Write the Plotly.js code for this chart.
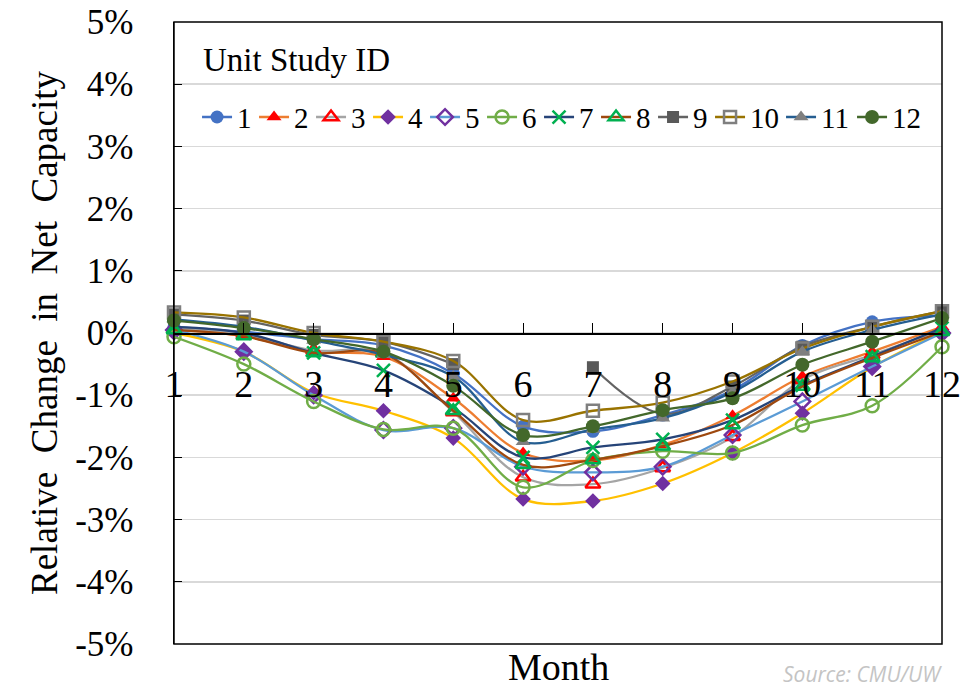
<!DOCTYPE html>
<html>
<head>
<meta charset="utf-8">
<script src="https://cdn.plot.ly/plotly-3.0.1.min.js"></script>
<style>html,body{margin:0;padding:0;background:#fff;}#chart{width:976px;height:690px;}</style>
</head>
<body>
<div id="chart"></div>
<script>
// ---- data (percent change) ----
const months = [1, 2, 3, 4, 5, 6, 7, 8, 9, 10, 11, 12];
const monthLabels = ["1", "2", "3", "4", "5", "6", "7", "8", "9", "10", "11", "12"];
const yTickVals = [-5, -4, -3, -2, -1, 0, 1, 2, 3, 4, 5];
const yTickText = ["-5%", "-4%", "-3%", "-2%", "-1%", "0%", "1%", "2%", "3%", "4%", "5%"];
const unitNames = ["1", "2", "3", "4", "5", "6", "7", "8", "9", "10", "11", "12"];

const unit1  = [0.10, 0.02, -0.10, -0.20, -0.65, -1.50, -1.58, -1.32, -0.92, -0.20, 0.18, 0.28];
const unit2  = [0.05, -0.05, -0.30, -0.38, -1.05, -1.93, -2.05, -1.80, -1.33, -0.70, -0.30, 0.10];
const unit3  = [0.08, -0.02, -0.28, -0.32, -1.27, -2.32, -2.43, -2.17, -1.67, -0.75, -0.35, 0.05];
const unit4  = [0.00, -0.30, -0.96, -1.25, -1.69, -2.67, -2.70, -2.42, -1.93, -1.29, -0.55, 0.02];
const unit5  = [0.05, -0.30, -1.00, -1.56, -1.53, -2.15, -2.24, -2.15, -1.64, -1.10, -0.54, 0.00];
const unit6  = [-0.06, -0.50, -1.10, -1.55, -1.53, -2.48, -2.05, -1.90, -1.93, -1.48, -1.17, -0.22];
const unit7  = [0.10, 0.00, -0.32, -0.60, -1.20, -2.00, -1.84, -1.71, -1.40, -0.84, -0.38, 0.08];
const unit8  = [0.05, -0.05, -0.32, -0.33, -1.25, -2.12, -2.04, -1.82, -1.48, -0.86, -0.40, 0.02];
const unit9  = [0.30, 0.20, -0.03, -0.14, -0.50, null, -0.55, -1.30, -0.86, -0.22, 0.10, 0.35];
const unit10 = [0.33, 0.25, 0.00, -0.14, -0.45, -1.40, -1.25, -1.12, -0.78, -0.25, 0.10, 0.35];
const unit11 = [0.22, 0.10, -0.12, -0.35, -0.70, -1.75, -1.55, -1.37, -0.95, -0.30, 0.05, 0.30];
const unit12 = [0.20, 0.08, -0.10, -0.30, -0.85, -1.64, -1.50, -1.24, -1.05, -0.51, -0.14, 0.24];

const seriesValues = [unit1, unit2, unit3, unit4, unit5, unit6, unit7, unit8, unit9, unit10, unit11, unit12];

// ---- styles ----
const lineColors = ["#4472C4", "#ED7D31", "#A5A5A5", "#FFC000", "#5B9BD5", "#70AD47",
                    "#264478", "#9E480E", "#636363", "#997300", "#255E91", "#43682B"];
const markerSymbols = ["circle", "triangle-up", "triangle-up-open", "diamond", "diamond-open", "circle-open",
                       "x-thin", "triangle-up-open", "square", "square-open", "triangle-up", "circle"];
const markerColors = ["#4472C4", "#FF0000", "#FF0000", "#7030A0", "#7030A0", "#70AD47",
                      "#00B050", "#00B050", "#595959", "#7F7F7F", "#7F7F7F", "#43682B"];
const markerSizes = [13, 13, 13, 12, 12, 13, 13, 13, 12, 12, 13, 14];

const serif = "'Liberation Serif', 'Times New Roman', serif";

const traces = seriesValues.map((vals, i) => {
  const open = markerSymbols[i].indexOf("open") >= 0 || markerSymbols[i] === "x-thin";
  return {
    type: "scatter",
    mode: "lines+markers",
    name: unitNames[i],
    x: months,
    y: vals,
    connectgaps: false,
    cliponaxis: false,
    legendwidth: unitNames[i].length > 1 ? 26 : 12,
    line: {color: lineColors[i], width: 2.3, shape: "spline", smoothing: 1},
    marker: {
      symbol: markerSymbols[i],
      size: markerSizes[i],
      color: markerColors[i],
      line: {color: markerColors[i], width: open ? 2.5 : 0}
    }
  };
});

const layout = {
  width: 976,
  height: 690,
  margin: {l: 174, r: 34, t: 22, b: 46},
  paper_bgcolor: "#ffffff",
  plot_bgcolor: "#ffffff",
  font: {family: serif, color: "#000000"},
  showlegend: true,
  legend: {
    orientation: "h",
    x: 0.03, xanchor: "left",
    y: 0.847, yanchor: "middle",
    bgcolor: "rgba(0,0,0,0)",
    borderwidth: 0,
    font: {family: serif, size: 29, color: "#000"},
    itemwidth: 30
  },
  xaxis: {
    range: [1, 12],
    tickmode: "array",
    tickvals: months,
    ticktext: monthLabels,
    ticks: "inside",
    ticklen: 10,
    tickwidth: 1,
    tickcolor: "#000",
    showline: true,
    linecolor: "#000",
    linewidth: 1.5,
    anchor: "free",
    position: 0.5,
    showgrid: false,
    zeroline: false,
    tickfont: {family: serif, size: 38, color: "#000"},
    ticklabelstandoff: 17,
    fixedrange: true
  },
  yaxis: {
    range: [-5, 5],
    tickmode: "array",
    tickvals: yTickVals,
    ticktext: yTickText,
    ticks: "inside",
    ticklen: 8,
    tickcolor: "#000",
    showline: true,
    linecolor: "#000",
    linewidth: 1.5,
    showgrid: true,
    gridcolor: "#d9d9d9",
    gridwidth: 1.5,
    zeroline: false,
    tickfont: {family: serif, size: 35, color: "#000"},
    ticklabelstandoff: 32,
    title: {text: "Relative  Change  in  Net  Capacity", font: {family: serif, size: 37, color: "#000"}, standoff: 6},
    automargin: false,
    fixedrange: true
  },
  shapes: [
    {type: "rect", xref: "paper", yref: "paper", x0: 0, x1: 1, y0: 0, y1: 1,
     line: {color: "#000", width: 1.5}, fillcolor: "rgba(0,0,0,0)", layer: "above"}
  ],
  annotations: [
    {text: "Unit Study ID", xref: "paper", yref: "paper", x: 0.035, y: 0.939,
     xanchor: "left", yanchor: "middle", showarrow: false,
     font: {family: serif, size: 33, color: "#000"}},
    {text: "Month", xref: "paper", yref: "paper", x: 0.5, y: -0.0735,
     xanchor: "center", yanchor: "bottom", showarrow: false,
     font: {family: serif, size: 38, color: "#000"}},
    {text: "Source: CMU/UW", xref: "paper", yref: "paper", x: 0.79, y: -0.0735,
     xanchor: "left", yanchor: "bottom", showarrow: false,
     font: {family: "'Open Sans', sans-serif", size: 21, color: "#c4c4c4", style: "italic"}}
  ]
};

Plotly.newPlot("chart", traces, layout, {staticPlot: true, displayModeBar: false});
</script>
</body>
</html>
